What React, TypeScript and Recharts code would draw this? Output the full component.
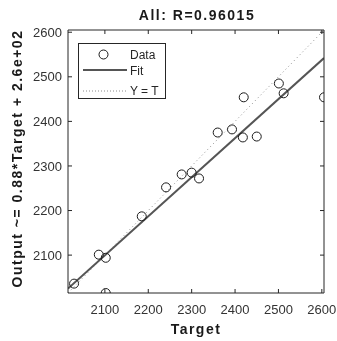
import React from "react";
import { ComposedChart, XAxis, YAxis, Scatter, Line, Legend } from "recharts";

const targets = [2029, 2086, 2102, 2102, 2185, 2241, 2277, 2300, 2317, 2360, 2393, 2418, 2420, 2450, 2501, 2512, 2605];
const outputs = [2036, 2101, 2094, 2015, 2187, 2252, 2281, 2285, 2272, 2375, 2382, 2364, 2454, 2366, 2485, 2463, 2454];
const fitLine = [
  { x: 2015, y: 2025 },
  { x: 2605, y: 2542 },
];
const identityLine = [
  { x: 2015, y: 2015 },
  { x: 2605, y: 2605 },
];
const xTicks = [2100, 2200, 2300, 2400, 2500, 2600];
const yTicks = [2100, 2200, 2300, 2400, 2500, 2600];
const axisDomain: [number, number] = [2015, 2605];
const titleText = "All: R=0.96015";
const xLabelText = "Target";
const yLabelText = "Output ~= 0.88*Target + 2.6e+02";

const points = targets.map((t, i) => ({ x: t, y: outputs[i] }));

const FONT = '"Liberation Sans", Arial, Helvetica, sans-serif';
const AXIS_COLOR = "#262626";

const EmptyTick = () => <g />;

const LegendBox = () => (
  <svg width={89} height={57} style={{ display: "block" }}>
    <rect x={0.5} y={0.5} width={87} height={55} fill="#fff" stroke={AXIS_COLOR} strokeWidth={1} />
    <circle cx={25.5} cy={11.5} r={4.5} fill="none" stroke="#1a1a1a" strokeWidth={1} />
    <text x={52} y={15.8} fontFamily={FONT} fontSize={12} fill={AXIS_COLOR}>Data</text>
    <line x1={5} x2={49} y1={27} y2={27} stroke="#555" strokeWidth={2} />
    <text x={52} y={32.3} fontFamily={FONT} fontSize={12} fill={AXIS_COLOR}>Fit</text>
    <line x1={5} x2={49} y1={48} y2={48} stroke="#8c8c8c" strokeWidth={1} strokeDasharray="1 2" />
    <text x={52} y={52.3} fontFamily={FONT} fontSize={12} fill={AXIS_COLOR}>Y = T</text>
  </svg>
);

const boldText = {
  fontFamily: FONT,
  fontWeight: 700,
  fontSize: 14,
  letterSpacing: 1.5,
  fill: "#1a1a1a",
};

export default function App() {
  return (
    <div style={{ position: "fixed", left: 8, top: 8, width: 329, height: 333 }}>
      <style>{`.recharts-surface { overflow: visible; }`}</style>
      <ComposedChart width={329} height={333} margin={{ top: 21, right: 12, bottom: 0, left: 0 }}>
        <XAxis
          xAxisId={0}
          type="number"
          dataKey="x"
          domain={axisDomain}
          ticks={xTicks}
          allowDataOverflow
          height={48}
          tickSize={-4}
          tickMargin={15.5}
          stroke={AXIS_COLOR}
          tick={{ fill: "#333", fontSize: 13, fontFamily: FONT }}
          label={{
            content: (p: any) => {
              const vb = p.viewBox;
              return (
                <text x={vb.x + vb.width / 2} y={vb.y + vb.height - 7} textAnchor="middle" style={boldText}>
                  {xLabelText}
                </text>
              );
            },
          }}
        />
        <XAxis
          xAxisId="top"
          orientation="top"
          type="number"
          dataKey="x"
          domain={axisDomain}
          ticks={xTicks}
          allowDataOverflow
          height={1}
          tickSize={-4}
          stroke={AXIS_COLOR}
          tick={EmptyTick}
          label={{
            content: (p: any) => {
              const vb = p.viewBox;
              return (
                <text x={vb.x + vb.width / 2 + 1} y={vb.y - 9} textAnchor="middle" style={boldText}>
                  {titleText}
                </text>
              );
            },
          }}
        />
        <YAxis
          yAxisId={0}
          type="number"
          dataKey="y"
          domain={axisDomain}
          ticks={yTicks}
          allowDataOverflow
          width={60}
          tickSize={-4}
          tickMargin={10}
          stroke={AXIS_COLOR}
          tick={{ fill: "#333", fontSize: 13, fontFamily: FONT }}
          label={{
            content: (p: any) => {
              const vb = p.viewBox;
              const cx = vb.x + 14;
              const cy = vb.y + vb.height / 2 - 3;
              return (
                <text x={cx} y={cy} textAnchor="middle" transform={`rotate(-90 ${cx} ${cy})`} style={boldText}>
                  {yLabelText}
                </text>
              );
            },
          }}
        />
        <YAxis
          yAxisId="right"
          orientation="right"
          type="number"
          dataKey="y"
          domain={axisDomain}
          ticks={yTicks}
          allowDataOverflow
          width={1}
          tickSize={-4}
          stroke={AXIS_COLOR}
          tick={EmptyTick}
        />
        <Legend
          layout="vertical"
          align="center"
          verticalAlign="middle"
          wrapperStyle={{ left: 70, top: 34.5, width: 89, height: 57 }}
          content={() => <LegendBox />}
        />
        <Line
          data={identityLine}
          xAxisId="top"
          yAxisId="right"
          dataKey="y"
          type="linear"
          dot={false}
          stroke="#8c8c8c"
          strokeWidth={1}
          strokeDasharray="1 3"
          isAnimationActive={false}
          legendType="none"
        />
        <Line
          data={fitLine}
          dataKey="y"
          type="linear"
          dot={false}
          stroke="#555"
          strokeWidth={2}
          isAnimationActive={false}
          legendType="none"
        />
        <Scatter
          data={points}
          dataKey="y"
          isAnimationActive={false}
          shape={(p: any) => (
            <circle cx={p.cx} cy={p.cy} r={4.5} fill="none" stroke="#1a1a1a" strokeWidth={1} />
          )}
        />
      </ComposedChart>
    </div>
  );
}
